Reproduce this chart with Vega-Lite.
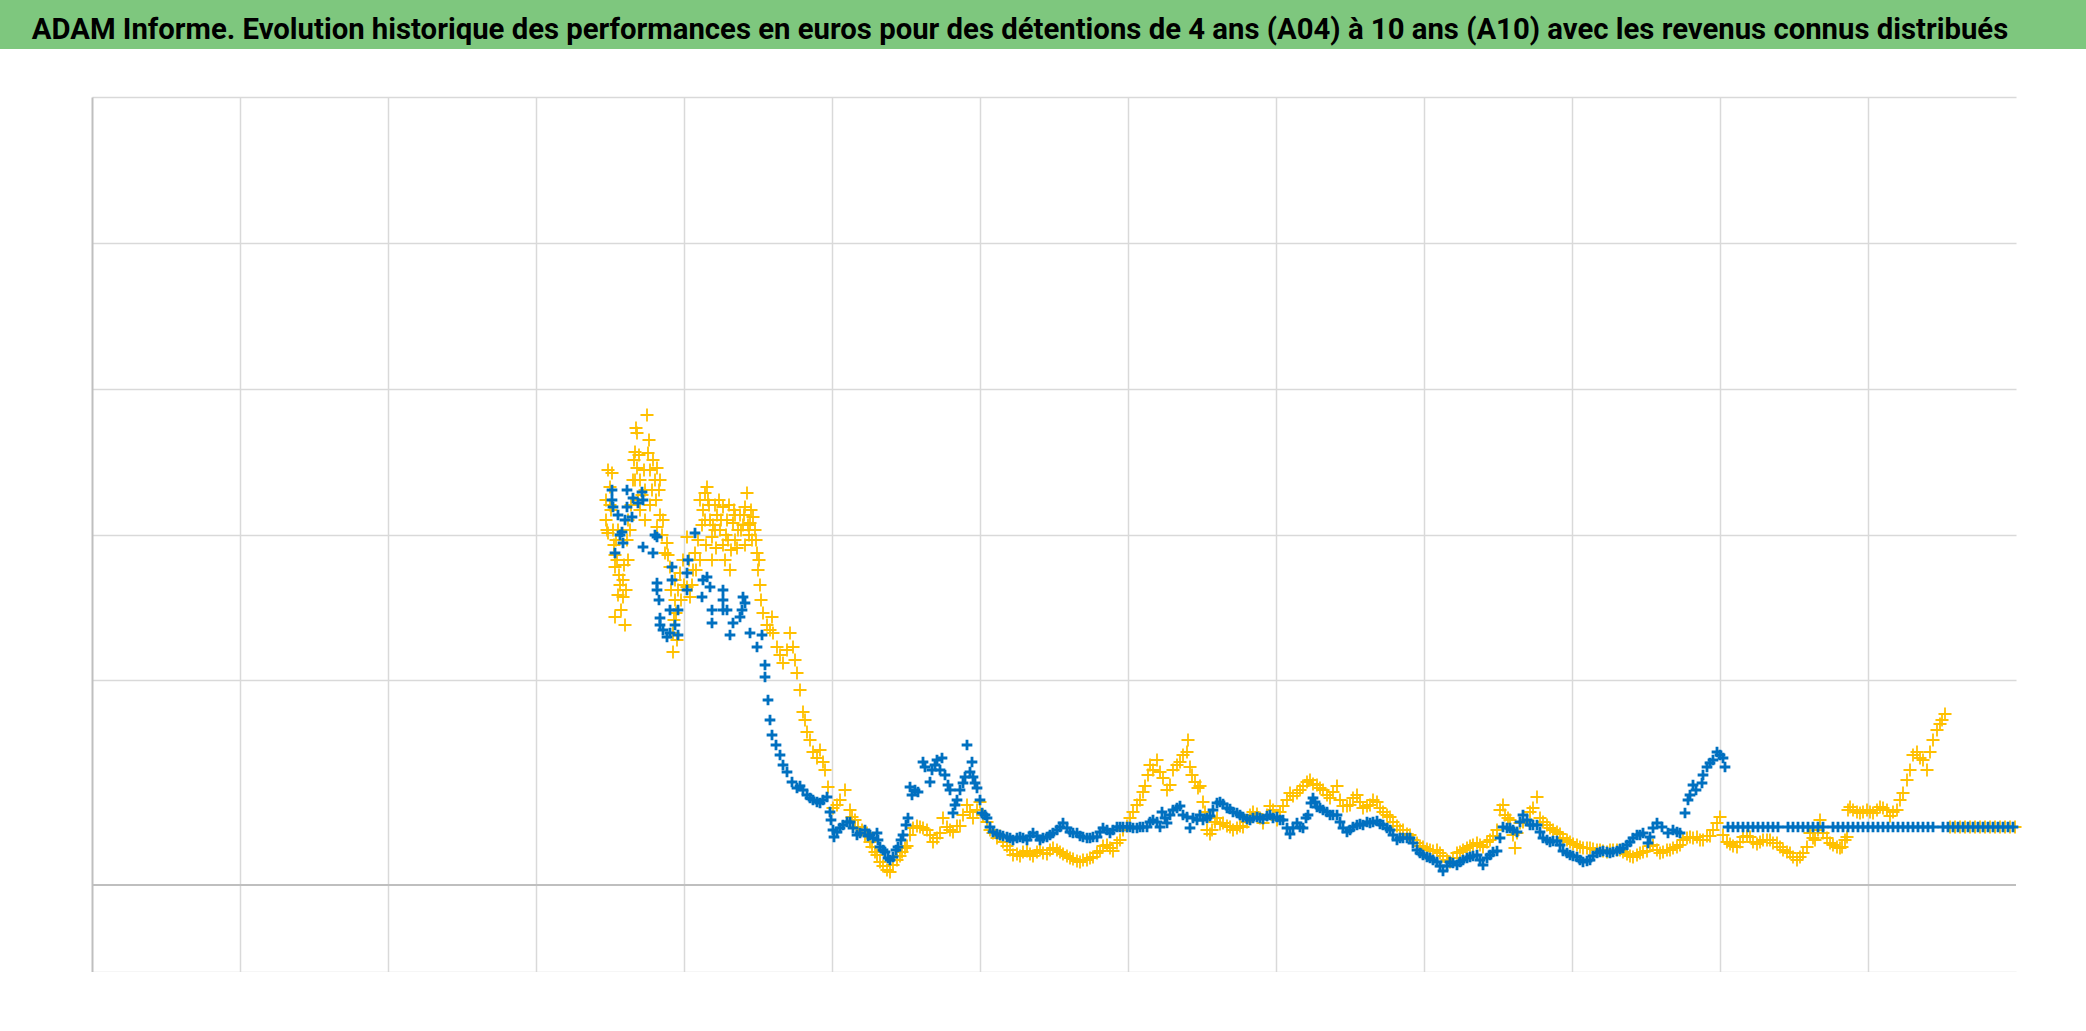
{
"$schema": "https://vega.github.io/schema/vega-lite/v6.json",
"background": "white",
"padding": 0,
"config": {"view": {"stroke": null}},
"width": 1924,
"height": 875,
"datasets": {
"a10": [
{"jour":1028,"perf":3650},{"jour":1030,"perf":3550},{"jour":1032,"perf":3520},{"jour":1036,"perf":3980},{"jour":1040,"perf":4120},{"jour":1044,"perf":3400},{"jour":1046,"perf":3300},{"jour":1046,"perf":3180},{"jour":1046,"perf":2680},{"jour":1050,"perf":3250},{"jour":1054,"perf":3100},{"jour":1056,"perf":3000},{"jour":1062,"perf":3050},{"jour":1062,"perf":2880},{"jour":1066,"perf":2600},{"jour":1068,"perf":2950},{"jour":1072,"perf":3250},{"jour":1076,"perf":3550},{"jour":1082,"perf":4050},{"jour":1084,"perf":4250},{"jour":1086,"perf":4330},{"jour":1088,"perf":4570},{"jour":1090,"perf":4520},{"jour":1090,"perf":4170},{"jour":1092,"perf":3850},{"jour":1096,"perf":3750},{"jour":1100,"perf":3900},{"jour":1106,"perf":3650},{"jour":1110,"perf":4700},{"jour":1112,"perf":4320},{"jour":1116,"perf":3800},{"jour":1120,"perf":3950},{"jour":1126,"perf":4050},{"jour":1130,"perf":4170},{"jour":1130,"perf":3580},{"jour":1136,"perf":3700},{"jour":1140,"perf":3500},{"jour":1146,"perf":3320},{"jour":1150,"perf":3420},{"jour":1156,"perf":3180},{"jour":1162,"perf":2520},{"jour":1162,"perf":2330},{"jour":1166,"perf":3050},{"jour":1166,"perf":2850},{"jour":1168,"perf":2720},{"jour":1172,"perf":2950},{"jour":1176,"perf":3120},{"jour":1182,"perf":3250},{"jour":1190,"perf":3480},{"jour":1190,"perf":2980},{"jour":1196,"perf":2880},{"jour":1202,"perf":3150},{"jour":1206,"perf":3320},{"jour":1212,"perf":3450},{"jour":1216,"perf":3250},{"jour":1222,"perf":3750},{"jour":1226,"perf":3920},{"jour":1230,"perf":3980},{"jour":1232,"perf":3850},{"jour":1236,"perf":3650},{"jour":1240,"perf":3480},{"jour":1240,"perf":3250},{"jour":1246,"perf":3800},{"jour":1250,"perf":3700},{"jour":1256,"perf":3550},{"jour":1262,"perf":3780},{"jour":1262,"perf":3400},{"jour":1266,"perf":3250},{"jour":1270,"perf":3650},{"jour":1276,"perf":3150},{"jour":1282,"perf":3620},{"jour":1286,"perf":3450},{"jour":1292,"perf":3550},{"jour":1296,"perf":3700},{"jour":1302,"perf":3600},{"jour":1306,"perf":3780},{"jour":1310,"perf":3920},{"jour":1316,"perf":3620},{"jour":1320,"perf":3450},{"jour":1322,"perf":3680},{"jour":1330,"perf":3320},{"jour":1332,"perf":3150},{"jour":1336,"perf":3000},{"jour":1338,"perf":2850},{"jour":1342,"perf":2720},{"jour":1350,"perf":2600},{"jour":1356,"perf":2550},{"jour":1360,"perf":2680},{"jour":1362,"perf":2520},{"jour":1370,"perf":2380},{"jour":1376,"perf":2300},{"jour":1382,"perf":2220},{"jour":1390,"perf":2350},{"jour":1396,"perf":2520},{"jour":1402,"perf":2380},{"jour":1406,"perf":2250},{"jour":1410,"perf":2120},{"jour":1416,"perf":1950},{"jour":1422,"perf":1730},{"jour":1426,"perf":1650},{"jour":1430,"perf":1530},{"jour":1436,"perf":1450},{"jour":1442,"perf":1330},{"jour":1450,"perf":1270},{"jour":1456,"perf":1350},{"jour":1462,"perf":1230},{"jour":1466,"perf":1150},{"jour":1472,"perf":980},
{"jour":1116,"perf":4150},{"jour":1136,"perf":4050},{"jour":1106,"perf":3950},{"jour":1096,"perf":4050},{"jour":1072,"perf":3650},{"jour":1052,"perf":3550},{"jour":1036,"perf":3800},{"jour":1226,"perf":3650},{"jour":1246,"perf":3550},{"jour":1272,"perf":3450},{"jour":1286,"perf":3700},{"jour":1312,"perf":3600},{"jour":1326,"perf":3550},{"jour":1306,"perf":3400},
{"jour":1216,"perf":3850},{"jour":1220,"perf":3600},{"jour":1228,"perf":3400},{"jour":1234,"perf":3800},{"jour":1242,"perf":3600},{"jour":1248,"perf":3370},{"jour":1254,"perf":3850},{"jour":1258,"perf":3650},{"jour":1268,"perf":3500},{"jour":1274,"perf":3800},{"jour":1278,"perf":3350},{"jour":1284,"perf":3750},{"jour":1290,"perf":3370},{"jour":1298,"perf":3550},{"jour":1304,"perf":3700},{"jour":1314,"perf":3500},{"jour":1318,"perf":3750},{"jour":1328,"perf":3450},{"jour":1334,"perf":3250},
{"jour":1028,"perf":3850},{"jour":1032,"perf":4150},{"jour":1038,"perf":3750},{"jour":1042,"perf":3550},{"jour":1048,"perf":3450},{"jour":1052,"perf":2900},{"jour":1058,"perf":2750},{"jour":1064,"perf":3200},{"jour":1070,"perf":3450},{"jour":1078,"perf":3800},{"jour":1086,"perf":4050},{"jour":1094,"perf":4300},{"jour":1104,"perf":4150},{"jour":1114,"perf":4450},{"jour":1122,"perf":4250},{"jour":1128,"perf":3850},{"jour":1134,"perf":3950},{"jour":1142,"perf":3650},{"jour":1152,"perf":3300},{"jour":1158,"perf":2950},{"jour":1164,"perf":2650},{"jour":1170,"perf":2450},{"jour":1178,"perf":2850},{"jour":1184,"perf":3000},{"jour":1194,"perf":3250},{"jour":1200,"perf":3000},{"jour":1208,"perf":3150},
{"jour":1482,"perf":770},{"jour":1490,"perf":800},{"jour":1496,"perf":850},{"jour":1506,"perf":950},{"jour":1516,"perf":750},{"jour":1520,"perf":680},{"jour":1526,"perf":650},{"jour":1532,"perf":580},{"jour":1540,"perf":550},{"jour":1546,"perf":500},{"jour":1550,"perf":520},{"jour":1556,"perf":430},{"jour":1560,"perf":380},{"jour":1566,"perf":330},{"jour":1570,"perf":300},{"jour":1576,"perf":230},{"jour":1582,"perf":190},{"jour":1590,"perf":150},{"jour":1596,"perf":130},{"jour":1602,"perf":200},{"jour":1610,"perf":250},{"jour":1616,"perf":290},{"jour":1620,"perf":330},{"jour":1626,"perf":370},{"jour":1630,"perf":390},{"jour":1636,"perf":500},{"jour":1642,"perf":570},{"jour":1650,"perf":590},{"jour":1656,"perf":580},{"jour":1662,"perf":570},{"jour":1670,"perf":550},{"jour":1676,"perf":500},{"jour":1682,"perf":430},{"jour":1690,"perf":470},{"jour":1696,"perf":520},{"jour":1702,"perf":670},{"jour":1710,"perf":580},{"jour":1716,"perf":550},{"jour":1722,"perf":530},{"jour":1730,"perf":590},{"jour":1736,"perf":590},{"jour":1742,"perf":700},{"jour":1750,"perf":800},{"jour":1756,"perf":730},{"jour":1762,"perf":670},{"jour":1770,"perf":750},{"jour":1776,"perf":830},{"jour":1782,"perf":700},{"jour":1790,"perf":630},{"jour":1796,"perf":550},{"jour":1802,"perf":520},{"jour":1810,"perf":470},{"jour":1816,"perf":490},{"jour":1822,"perf":430},{"jour":1830,"perf":390},{"jour":1836,"perf":350},{"jour":1842,"perf":300},{"jour":1850,"perf":310},{"jour":1856,"perf":290},{"jour":1862,"perf":330},{"jour":1870,"perf":340},{"jour":1876,"perf":310},{"jour":1882,"perf":290},{"jour":1890,"perf":330},{"jour":1896,"perf":350},{"jour":1902,"perf":320},{"jour":1910,"perf":310},{"jour":1916,"perf":350},{"jour":1922,"perf":370},{"jour":1930,"perf":350},{"jour":1936,"perf":330},{"jour":1942,"perf":310},{"jour":1950,"perf":290},{"jour":1956,"perf":270},{"jour":1962,"perf":260},{"jour":1970,"perf":240},{"jour":1976,"perf":230},{"jour":1982,"perf":250},{"jour":1990,"perf":250},{"jour":1996,"perf":270},{"jour":2002,"perf":280},{"jour":2010,"perf":320},{"jour":2016,"perf":340},{"jour":2022,"perf":390},{"jour":2030,"perf":400},{"jour":2036,"perf":370},{"jour":2042,"perf":340},{"jour":2050,"perf":420},{"jour":2056,"perf":450},{"jour":2062,"perf":550},{"jour":2070,"perf":590},{"jour":2076,"perf":670},{"jour":2082,"perf":730},{"jour":2090,"perf":800},{"jour":2096,"perf":850},{"jour":2102,"perf":930},{"jour":2106,"perf":990},{"jour":2112,"perf":1100},{"jour":2116,"perf":1200},{"jour":2122,"perf":1150},{"jour":2130,"perf":1250},{"jour":2136,"perf":1130},{"jour":2142,"perf":1070},{"jour":2150,"perf":950},{"jour":2156,"perf":1000},{"jour":2162,"perf":1150},{"jour":2170,"perf":1200},{"jour":2176,"perf":1230},{"jour":2182,"perf":1300},{"jour":2190,"perf":1330},{"jour":2192,"perf":1450},{"jour":2196,"perf":1180},{"jour":2200,"perf":1100},{"jour":2206,"perf":1030},{"jour":2212,"perf":970},{"jour":2216,"perf":990},{"jour":2222,"perf":830},{"jour":2226,"perf":730},{"jour":2230,"perf":550},{"jour":2236,"perf":510},{"jour":2240,"perf":550},{"jour":2246,"perf":630},{"jour":2250,"perf":670},{"jour":2256,"perf":610},{"jour":2262,"perf":620},{"jour":2270,"perf":590},{"jour":2276,"perf":580},{"jour":2282,"perf":550},{"jour":2290,"perf":570},{"jour":2296,"perf":590},{"jour":2302,"perf":580},{"jour":2310,"perf":630},{"jour":2316,"perf":700},{"jour":2322,"perf":730},{"jour":2330,"perf":710},{"jour":2336,"perf":670},{"jour":2342,"perf":620},{"jour":2350,"perf":700},{"jour":2356,"perf":790},{"jour":2362,"perf":750},{"jour":2370,"perf":650},{"jour":2376,"perf":730},{"jour":2382,"perf":790},{"jour":2390,"perf":850},{"jour":2396,"perf":920},{"jour":2402,"perf":890},{"jour":2410,"perf":920},{"jour":2416,"perf":950},{"jour":2422,"perf":990},{"jour":2430,"perf":1030},{"jour":2436,"perf":1050},{"jour":2442,"perf":1010},{"jour":2450,"perf":1000},{"jour":2456,"perf":970},{"jour":2462,"perf":950},{"jour":2470,"perf":900},{"jour":2476,"perf":870},{"jour":2482,"perf":930},{"jour":2490,"perf":990},{"jour":2496,"perf":850},{"jour":2502,"perf":790},{"jour":2510,"perf":790},{"jour":2516,"perf":800},{"jour":2522,"perf":870},{"jour":2530,"perf":900},{"jour":2536,"perf":830},{"jour":2542,"perf":770},{"jour":2550,"perf":790},{"jour":2556,"perf":800},{"jour":2562,"perf":850},{"jour":2570,"perf":830},{"jour":2576,"perf":770},{"jour":2582,"perf":730},{"jour":2590,"perf":700},{"jour":2596,"perf":680},{"jour":2602,"perf":630},{"jour":2610,"perf":590},{"jour":2616,"perf":550},{"jour":2622,"perf":550},{"jour":2630,"perf":510},{"jour":2636,"perf":500},{"jour":2642,"perf":450},{"jour":2650,"perf":420},{"jour":2656,"perf":390},{"jour":2662,"perf":380},{"jour":2670,"perf":360},{"jour":2676,"perf":350},{"jour":2682,"perf":340},{"jour":2690,"perf":350},{"jour":2696,"perf":320},{"jour":2702,"perf":290},{"jour":2710,"perf":250},{"jour":2716,"perf":230},{"jour":2722,"perf":270},{"jour":2730,"perf":320},{"jour":2736,"perf":330},{"jour":2742,"perf":350},{"jour":2750,"perf":370},{"jour":2756,"perf":390},{"jour":2762,"perf":400},{"jour":2770,"perf":420},{"jour":2776,"perf":400},{"jour":2782,"perf":380},{"jour":2790,"perf":430},{"jour":2796,"perf":450},{"jour":2802,"perf":490},{"jour":2810,"perf":550},{"jour":2816,"perf":750},{"jour":2822,"perf":800},{"jour":2826,"perf":700},{"jour":2832,"perf":670},{"jour":2836,"perf":650},{"jour":2842,"perf":500},{"jour":2846,"perf":370},{"jour":2850,"perf":520},{"jour":2856,"perf":620},{"jour":2862,"perf":630},{"jour":2870,"perf":650},{"jour":2876,"perf":730},{"jour":2882,"perf":770},{"jour":2890,"perf":880},{"jour":2896,"perf":670},{"jour":2902,"perf":630},{"jour":2910,"perf":600},{"jour":2916,"perf":570},{"jour":2922,"perf":550},{"jour":2930,"perf":530},{"jour":2936,"perf":510},{"jour":2942,"perf":470},{"jour":2950,"perf":450},{"jour":2956,"perf":430},{"jour":2962,"perf":410},{"jour":2970,"perf":400},{"jour":2976,"perf":380},{"jour":2982,"perf":370},{"jour":2990,"perf":370},{"jour":2996,"perf":370},{"jour":3002,"perf":360},{"jour":3010,"perf":350},{"jour":3016,"perf":350},{"jour":3022,"perf":340},{"jour":3030,"perf":330},{"jour":3036,"perf":350},{"jour":3042,"perf":350},{"jour":3050,"perf":350},{"jour":3056,"perf":350},{"jour":3062,"perf":330},{"jour":3070,"perf":310},{"jour":3076,"perf":290},{"jour":3082,"perf":280},{"jour":3090,"perf":300},{"jour":3096,"perf":320},{"jour":3102,"perf":330},{"jour":3110,"perf":340},{"jour":3116,"perf":390},{"jour":3122,"perf":400},{"jour":3130,"perf":350},{"jour":3136,"perf":320},{"jour":3142,"perf":330},{"jour":3150,"perf":350},{"jour":3156,"perf":350},{"jour":3162,"perf":370},{"jour":3170,"perf":380},{"jour":3176,"perf":400},{"jour":3182,"perf":450},{"jour":3190,"perf":470},{"jour":3196,"perf":480},{"jour":3202,"perf":470},{"jour":3210,"perf":480},{"jour":3216,"perf":450},{"jour":3222,"perf":450},{"jour":3230,"perf":490},{"jour":3236,"perf":490},{"jour":3242,"perf":550},{"jour":3250,"perf":620},{"jour":3256,"perf":680},{"jour":3262,"perf":500},{"jour":3270,"perf":430},{"jour":3276,"perf":410},{"jour":3282,"perf":390},{"jour":3290,"perf":380},{"jour":3296,"perf":430},{"jour":3302,"perf":480},{"jour":3310,"perf":490},{"jour":3316,"perf":480},{"jour":3322,"perf":430},{"jour":3330,"perf":410},{"jour":3336,"perf":430},{"jour":3342,"perf":450},{"jour":3350,"perf":450},{"jour":3356,"perf":450},{"jour":3362,"perf":420},{"jour":3370,"perf":420},{"jour":3376,"perf":380},{"jour":3382,"perf":350},{"jour":3390,"perf":330},{"jour":3396,"perf":320},{"jour":3402,"perf":280},{"jour":3410,"perf":250},{"jour":3416,"perf":280},{"jour":3422,"perf":320},{"jour":3430,"perf":380},{"jour":3436,"perf":520},{"jour":3442,"perf":470},{"jour":3446,"perf":450},{"jour":3452,"perf":550},{"jour":3456,"perf":650},{"jour":3462,"perf":520},{"jour":3470,"perf":470},{"jour":3476,"perf":420},{"jour":3482,"perf":400},{"jour":3490,"perf":380},{"jour":3496,"perf":370},{"jour":3500,"perf":380},{"jour":3506,"perf":450},{"jour":3510,"perf":480},{"jour":3512,"perf":750},{"jour":3516,"perf":780},{"jour":3522,"perf":750},{"jour":3530,"perf":730},{"jour":3536,"perf":720},{"jour":3542,"perf":730},{"jour":3550,"perf":750},{"jour":3556,"perf":730},{"jour":3562,"perf":720},{"jour":3570,"perf":750},{"jour":3576,"perf":780},{"jour":3582,"perf":770},{"jour":3590,"perf":750},{"jour":3596,"perf":690},{"jour":3602,"perf":730},{"jour":3610,"perf":750},{"jour":3616,"perf":850},{"jour":3622,"perf":920},{"jour":3630,"perf":1050},{"jour":3636,"perf":1150},{"jour":3642,"perf":1300},{"jour":3650,"perf":1330},{"jour":3656,"perf":1270},{"jour":3662,"perf":1250},{"jour":3670,"perf":1150},{"jour":3676,"perf":1330},{"jour":3682,"perf":1450},{"jour":3690,"perf":1550},{"jour":3696,"perf":1610},{"jour":3700,"perf":1650},{"jour":3706,"perf":1710},
{"jour":3716,"perf":580},{"jour":3726,"perf":580},{"jour":3736,"perf":580},{"jour":3746,"perf":580},{"jour":3756,"perf":580},{"jour":3766,"perf":580},{"jour":3776,"perf":580},{"jour":3786,"perf":580},{"jour":3796,"perf":580},{"jour":3806,"perf":580},{"jour":3816,"perf":580},{"jour":3826,"perf":580},{"jour":3836,"perf":580},{"jour":3846,"perf":580}
],
"a04": [
{"jour":1040,"perf":3950},{"jour":1040,"perf":3850},{"jour":1042,"perf":3780},{"jour":1046,"perf":3320},{"jour":1052,"perf":3700},{"jour":1056,"perf":3500},{"jour":1060,"perf":3530},{"jour":1062,"perf":3420},{"jour":1066,"perf":3650},{"jour":1070,"perf":3950},{"jour":1070,"perf":3780},{"jour":1080,"perf":3680},{"jour":1082,"perf":3870},{"jour":1092,"perf":3820},{"jour":1100,"perf":3930},{"jour":1102,"perf":3850},{"jour":1102,"perf":3380},{"jour":1122,"perf":3320},{"jour":1126,"perf":3500},{"jour":1130,"perf":3480},{"jour":1130,"perf":3020},{"jour":1130,"perf":2950},{"jour":1134,"perf":2850},{"jour":1136,"perf":2670},{"jour":1136,"perf":2600},{"jour":1142,"perf":2550},{"jour":1150,"perf":2480},{"jour":1156,"perf":2520},{"jour":1156,"perf":2750},{"jour":1160,"perf":3180},{"jour":1160,"perf":3050},{"jour":1166,"perf":2600},{"jour":1172,"perf":2750},{"jour":1172,"perf":2500},{"jour":1190,"perf":3120},{"jour":1192,"perf":3250},{"jour":1190,"perf":2950},{"jour":1206,"perf":3520},{"jour":1220,"perf":2880},{"jour":1222,"perf":3050},{"jour":1230,"perf":3080},{"jour":1236,"perf":2980},{"jour":1240,"perf":2750},{"jour":1240,"perf":2620},{"jour":1262,"perf":2950},{"jour":1262,"perf":2850},{"jour":1262,"perf":2750},{"jour":1270,"perf":2750},{"jour":1276,"perf":2500},{"jour":1282,"perf":2620},{"jour":1296,"perf":2680},{"jour":1300,"perf":2750},{"jour":1302,"perf":2880},{"jour":1306,"perf":2820},{"jour":1316,"perf":2520},{"jour":1330,"perf":2380},{"jour":1340,"perf":2500},{"jour":1346,"perf":2200},{"jour":1346,"perf":2080},{"jour":1352,"perf":1850},{"jour":1356,"perf":1650},{"jour":1360,"perf":1500},{"jour":1368,"perf":1400},{"jour":1376,"perf":1300},{"jour":1382,"perf":1200},{"jour":1390,"perf":1130},{"jour":1400,"perf":1030},{"jour":1410,"perf":970},{"jour":1416,"perf":990},{"jour":1422,"perf":950},{"jour":1430,"perf":900},{"jour":1436,"perf":870},{"jour":1442,"perf":850},{"jour":1450,"perf":830},{"jour":1456,"perf":820},{"jour":1462,"perf":850},{"jour":1470,"perf":880},{"jour":1476,"perf":730},{"jour":1478,"perf":650},{"jour":1482,"perf":550},{"jour":1484,"perf":480},{"jour":1490,"perf":530},{"jour":1496,"perf":570},{"jour":1502,"perf":600},{"jour":1510,"perf":630},{"jour":1516,"perf":630},{"jour":1522,"perf":570},{"jour":1530,"perf":500},{"jour":1536,"perf":520},{"jour":1546,"perf":550},{"jour":1552,"perf":490},{"jour":1556,"perf":500},{"jour":1562,"perf":470},{"jour":1570,"perf":520},{"jour":1572,"perf":450},{"jour":1576,"perf":380},{"jour":1582,"perf":350},{"jour":1586,"perf":330},{"jour":1592,"perf":270},{"jour":1596,"perf":250},{"jour":1602,"perf":280},{"jour":1608,"perf":350},{"jour":1612,"perf":380},{"jour":1618,"perf":450},{"jour":1622,"perf":500},{"jour":1628,"perf":600},{"jour":1632,"perf":670},{"jour":1636,"perf":980},{"jour":1640,"perf":900},{"jour":1646,"perf":950},{"jour":1652,"perf":930},{"jour":1662,"perf":1230},{"jour":1666,"perf":1180},{"jour":1676,"perf":1030},{"jour":1680,"perf":1150},{"jour":1686,"perf":1200},{"jour":1690,"perf":1250},{"jour":1696,"perf":1150},{"jour":1700,"perf":1270},{"jour":1706,"perf":1100},{"jour":1712,"perf":1000},{"jour":1716,"perf":950},{"jour":1722,"perf":720},{"jour":1726,"perf":800},{"jour":1730,"perf":850},{"jour":1736,"perf":950},{"jour":1742,"perf":1020},{"jour":1746,"perf":1080},{"jour":1750,"perf":1400},{"jour":1756,"perf":1130},{"jour":1760,"perf":1230},{"jour":1762,"perf":1080},{"jour":1766,"perf":1020},{"jour":1770,"perf":970},{"jour":1776,"perf":850},{"jour":1780,"perf":720},{"jour":1786,"perf":700},{"jour":1790,"perf":670},{"jour":1796,"perf":580},{"jour":1802,"perf":530},{"jour":1810,"perf":510},{"jour":1816,"perf":500},{"jour":1822,"perf":490},{"jour":1830,"perf":480},{"jour":1836,"perf":470},{"jour":1842,"perf":450},{"jour":1850,"perf":470},{"jour":1856,"perf":480},{"jour":1862,"perf":470},{"jour":1870,"perf":450},{"jour":1876,"perf":490},{"jour":1882,"perf":520},{"jour":1890,"perf":490},{"jour":1896,"perf":450},{"jour":1902,"perf":470},{"jour":1910,"perf":480},{"jour":1916,"perf":500},{"jour":1922,"perf":520},{"jour":1930,"perf":550},{"jour":1936,"perf":580},{"jour":1942,"perf":620},{"jour":1950,"perf":570},{"jour":1956,"perf":530},{"jour":1962,"perf":520},{"jour":1970,"perf":520},{"jour":1976,"perf":490},{"jour":1982,"perf":480},{"jour":1990,"perf":470},{"jour":1996,"perf":470},{"jour":2002,"perf":480},{"jour":2010,"perf":480},{"jour":2016,"perf":530},{"jour":2022,"perf":570},{"jour":2030,"perf":550},{"jour":2036,"perf":520},{"jour":2042,"perf":550},{"jour":2050,"perf":580},{"jour":2056,"perf":580},{"jour":2062,"perf":580},{"jour":2070,"perf":580},{"jour":2076,"perf":580},{"jour":2082,"perf":570},{"jour":2090,"perf":570},{"jour":2096,"perf":580},{"jour":2102,"perf":580},{"jour":2110,"perf":580},{"jour":2116,"perf":630},{"jour":2122,"perf":650},{"jour":2130,"perf":630},{"jour":2136,"perf":580},{"jour":2140,"perf":730},{"jour":2146,"perf":670},{"jour":2150,"perf":620},{"jour":2156,"perf":700},{"jour":2162,"perf":750},{"jour":2170,"perf":770},{"jour":2176,"perf":790},{"jour":2182,"perf":700},{"jour":2190,"perf":680},{"jour":2196,"perf":570},{"jour":2202,"perf":670},{"jour":2210,"perf":650},{"jour":2216,"perf":700},{"jour":2222,"perf":650},{"jour":2230,"perf":670},{"jour":2236,"perf":690},{"jour":2242,"perf":750},{"jour":2250,"perf":820},{"jour":2256,"perf":830},{"jour":2262,"perf":810},{"jour":2270,"perf":770},{"jour":2276,"perf":760},{"jour":2282,"perf":730},{"jour":2290,"perf":720},{"jour":2296,"perf":700},{"jour":2302,"perf":680},{"jour":2310,"perf":660},{"jour":2316,"perf":650},{"jour":2322,"perf":670},{"jour":2330,"perf":680},{"jour":2336,"perf":670},{"jour":2342,"perf":660},{"jour":2350,"perf":690},{"jour":2356,"perf":700},{"jour":2362,"perf":670},{"jour":2370,"perf":680},{"jour":2376,"perf":650},{"jour":2382,"perf":650},{"jour":2390,"perf":570},{"jour":2396,"perf":510},{"jour":2402,"perf":570},{"jour":2410,"perf":620},{"jour":2416,"perf":580},{"jour":2422,"perf":570},{"jour":2428,"perf":670},{"jour":2432,"perf":700},{"jour":2438,"perf":820},{"jour":2442,"perf":870},{"jour":2446,"perf":830},{"jour":2450,"perf":780},{"jour":2456,"perf":770},{"jour":2462,"perf":750},{"jour":2470,"perf":730},{"jour":2476,"perf":700},{"jour":2482,"perf":700},{"jour":2490,"perf":700},{"jour":2496,"perf":630},{"jour":2502,"perf":570},{"jour":2510,"perf":530},{"jour":2516,"perf":550},{"jour":2522,"perf":580},{"jour":2530,"perf":600},{"jour":2536,"perf":610},{"jour":2542,"perf":600},{"jour":2550,"perf":630},{"jour":2556,"perf":620},{"jour":2562,"perf":630},{"jour":2570,"perf":640},{"jour":2576,"perf":610},{"jour":2582,"perf":600},{"jour":2590,"perf":570},{"jour":2596,"perf":550},{"jour":2602,"perf":500},{"jour":2610,"perf":450},{"jour":2616,"perf":470},{"jour":2622,"perf":470},{"jour":2630,"perf":470},{"jour":2636,"perf":470},{"jour":2642,"perf":420},{"jour":2650,"perf":350},{"jour":2656,"perf":320},{"jour":2662,"perf":300},{"jour":2670,"perf":280},{"jour":2676,"perf":270},{"jour":2682,"perf":250},{"jour":2690,"perf":230},{"jour":2696,"perf":190},{"jour":2702,"perf":140},{"jour":2710,"perf":190},{"jour":2716,"perf":230},{"jour":2722,"perf":220},{"jour":2730,"perf":200},{"jour":2736,"perf":230},{"jour":2742,"perf":250},{"jour":2750,"perf":270},{"jour":2756,"perf":280},{"jour":2762,"perf":290},{"jour":2770,"perf":300},{"jour":2776,"perf":250},{"jour":2782,"perf":200},{"jour":2790,"perf":270},{"jour":2796,"perf":300},{"jour":2802,"perf":330},{"jour":2810,"perf":340},{"jour":2816,"perf":470},{"jour":2822,"perf":580},{"jour":2830,"perf":570},{"jour":2836,"perf":570},{"jour":2842,"perf":550},{"jour":2850,"perf":530},{"jour":2856,"perf":630},{"jour":2862,"perf":700},{"jour":2870,"perf":650},{"jour":2876,"perf":600},{"jour":2882,"perf":600},{"jour":2890,"perf":600},{"jour":2896,"perf":530},{"jour":2902,"perf":470},{"jour":2910,"perf":450},{"jour":2916,"perf":430},{"jour":2922,"perf":440},{"jour":2930,"perf":440},{"jour":2936,"perf":400},{"jour":2942,"perf":340},{"jour":2950,"perf":320},{"jour":2956,"perf":300},{"jour":2962,"perf":290},{"jour":2970,"perf":280},{"jour":2976,"perf":250},{"jour":2982,"perf":230},{"jour":2990,"perf":240},{"jour":2996,"perf":250},{"jour":3002,"perf":290},{"jour":3010,"perf":320},{"jour":3016,"perf":330},{"jour":3022,"perf":340},{"jour":3030,"perf":330},{"jour":3036,"perf":320},{"jour":3042,"perf":330},{"jour":3050,"perf":340},{"jour":3056,"perf":360},{"jour":3062,"perf":370},{"jour":3070,"perf":400},{"jour":3076,"perf":430},{"jour":3082,"perf":470},{"jour":3090,"perf":500},{"jour":3096,"perf":500},{"jour":3102,"perf":520},{"jour":3112,"perf":420},{"jour":3116,"perf":480},{"jour":3122,"perf":570},{"jour":3130,"perf":620},{"jour":3140,"perf":580},{"jour":3152,"perf":520},{"jour":3162,"perf":550},{"jour":3170,"perf":530},{"jour":3176,"perf":520},{"jour":3186,"perf":720},{"jour":3192,"perf":850},{"jour":3196,"perf":900},{"jour":3202,"perf":1000},{"jour":3208,"perf":950},{"jour":3220,"perf":1020},{"jour":3222,"perf":1100},{"jour":3230,"perf":1180},{"jour":3236,"perf":1220},{"jour":3242,"perf":1250},{"jour":3250,"perf":1330},{"jour":3256,"perf":1300},{"jour":3262,"perf":1270},{"jour":3266,"perf":1180},
{"jour":3272,"perf":580},{"jour":3282,"perf":580},{"jour":3292,"perf":580},{"jour":3302,"perf":580},{"jour":3312,"perf":580},{"jour":3322,"perf":580},{"jour":3332,"perf":580},{"jour":3342,"perf":580},{"jour":3352,"perf":580},{"jour":3362,"perf":580},{"jour":3372,"perf":580},{"jour":3392,"perf":580},{"jour":3402,"perf":580},{"jour":3412,"perf":580},{"jour":3422,"perf":580},{"jour":3432,"perf":580},{"jour":3442,"perf":580},{"jour":3452,"perf":580},{"jour":3462,"perf":580},{"jour":3482,"perf":580},{"jour":3492,"perf":580},{"jour":3502,"perf":580},{"jour":3512,"perf":580},{"jour":3522,"perf":580},{"jour":3532,"perf":580},{"jour":3542,"perf":580},{"jour":3552,"perf":580},{"jour":3562,"perf":580},{"jour":3572,"perf":580},{"jour":3582,"perf":580},{"jour":3592,"perf":580},{"jour":3602,"perf":580},{"jour":3612,"perf":580},{"jour":3622,"perf":580},{"jour":3632,"perf":580},{"jour":3642,"perf":580},{"jour":3652,"perf":580},{"jour":3662,"perf":580},{"jour":3672,"perf":580},{"jour":3682,"perf":580},{"jour":3702,"perf":580},{"jour":3712,"perf":580},{"jour":3722,"perf":580},{"jour":3732,"perf":580},{"jour":3742,"perf":580},{"jour":3752,"perf":580},{"jour":3762,"perf":580},{"jour":3772,"perf":580},{"jour":3782,"perf":580},{"jour":3792,"perf":580},{"jour":3802,"perf":580},{"jour":3812,"perf":580},{"jour":3822,"perf":580},{"jour":3832,"perf":580},{"jour":3842,"perf":580}
],
"bandeau": [{"titre": "ADAM Informe. Evolution historique des performances en euros pour des détentions de 4 ans (A04) à 10 ans (A10) avec les revenus connus distribués"}]
},
"layer": [
{
"data": {"name": "bandeau"},
"mark": {"type": "rect", "color": "#7EC77E", "strokeWidth": 0},
"encoding": {
"x": {"datum": -184, "type": "quantitative", "scale": {"domain": [0, 3848], "nice": false, "zero": false}},
"x2": {"datum": 3988},
"y": {"datum": 8850, "type": "quantitative", "scale": {"domain": [-870, 7880], "nice": false, "zero": false}},
"y2": {"datum": 8360}
}
},
{
"data": {"name": "bandeau"},
"mark": {"type": "text", "font": "Roboto", "fontSize": 29.3, "fontWeight": "bold", "color": "#000000", "baseline": "alphabetic", "align": "center"},
"encoding": {
"x": {"datum": 1856, "type": "quantitative"},
"y": {"datum": 8460, "type": "quantitative"},
"text": {"field": "titre", "type": "nominal"}
}
},
{
"data": {"values": [{"niveau": 0}]},
"mark": {"type": "rule", "color": "#BFBFBF", "strokeWidth": 2},
"encoding": {
"y": {"field": "niveau", "type": "quantitative"}
}
},
{
"data": {"name": "a10"},
"mark": {"type": "point", "shape": "M-1,0L1,0M0,-1L0,1", "filled": false, "size": 170, "strokeWidth": 1.8, "color": "#FFC000", "opacity": 1},
"encoding": {
"x": {"field": "jour", "type": "quantitative",
"axis": {"title": null, "labels": false, "ticks": false, "domain": false, "grid": true, "values": [296, 592, 888, 1184, 1480, 1776, 2072, 2368, 2664, 2960, 3256, 3552], "gridColor": "#D9D9D9", "gridWidth": 1.5}},
"y": {"field": "perf", "type": "quantitative",
"axis": {"title": null, "labels": false, "ticks": false, "domain": true, "domainColor": "#BFBFBF", "domainWidth": 2, "grid": true, "values": [-870, 2046.7, 3505, 4963.3, 6421.7, 7880], "gridColor": "#D9D9D9", "gridWidth": 1.5}}
}
},
{
"data": {"name": "a04"},
"mark": {"type": "point", "shape": "M-1,0L1,0M0,-1L0,1", "filled": false, "size": 115, "strokeWidth": 2.8, "color": "#0070C0", "opacity": 1},
"encoding": {
"x": {"field": "jour", "type": "quantitative"},
"y": {"field": "perf", "type": "quantitative"}
}
}
]
}
